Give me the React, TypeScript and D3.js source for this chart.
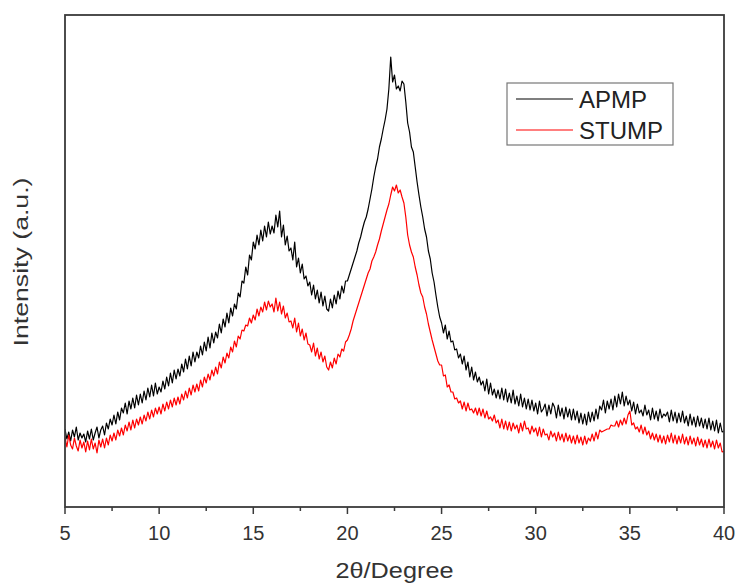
import React from "react";
import * as d3 from "d3";

// 2θ sampling: starts at 5°, step 0.1°
const angleStart = 5;
const angleStep = 0.1;

const xTicks = [5, 10, 15, 20, 25, 30, 35, 40];
const xMinorTicks = [7.5, 12.5, 17.5, 22.5, 27.5, 32.5, 37.5];

const seriesNames = ["APMP", "STUMP"];
const seriesColors = ["#000000", "#ff0000"];

// APMP intensity (a.u.), one row per degree (x.0 … x.9)
const apmp = [
  78, 68, 75, 66, 77, 70, 80, 67, 74, 69,
  73, 65, 76, 68, 78, 67, 74, 80, 69, 77,
  81, 72, 84, 78, 88, 82, 92, 83, 95, 87,
  99, 94, 104, 93, 106, 98, 109, 99, 112, 102,
  113, 104, 116, 107, 119, 110, 122, 111, 124, 113,
  120, 115, 126, 118, 130, 121, 134, 124, 137, 128,
  138, 131, 143, 135, 148, 138, 151, 141, 155, 145,
  155, 149, 161, 152, 165, 156, 170, 159, 174, 164,
  175, 169, 183, 174, 188, 180, 194, 184, 199, 191,
  203, 198, 214, 210, 226, 224, 240, 232, 252, 247,
  265, 258, 272, 262, 277, 266, 281, 270, 285, 273,
  281, 274, 292, 280, 296, 270, 282, 262, 271, 256,
  259, 247, 265, 240, 249, 234, 243, 228, 231, 221,
  225, 212, 222, 208, 217, 204, 215, 201, 211, 198,
  196, 208, 199, 212, 203, 216, 208, 221, 214, 226,
  226, 232, 238, 244, 250, 256, 264, 270, 278, 285,
  290, 298, 308, 318, 330, 340, 348, 360, 368, 378,
  387, 398, 418, 450, 425, 432, 418, 421, 416, 426,
  423, 405, 384, 375, 360, 355, 340, 325, 312, 300,
  290, 278, 270, 256, 248, 234, 225, 212, 200, 190,
  184, 174, 182, 168, 176, 165, 166, 157, 158, 149,
  153, 143, 151, 137, 145, 130, 140, 127, 135, 125,
  130, 122, 126, 116, 128, 113, 124, 112, 118, 109,
  117, 108, 119, 107, 118, 105, 114, 104, 117, 103,
  111, 101, 113, 100, 109, 98, 108, 97, 107, 96,
  104, 93, 106, 95, 98, 103, 91, 102, 93, 104,
  100, 89, 102, 91, 99, 88, 100, 90, 98, 87,
  98, 87, 96, 84, 94, 83, 93, 82, 95, 85,
  95, 86, 98, 88, 101, 97, 107, 94, 106, 98,
  108, 97, 111, 100, 113, 103, 115, 101, 111, 102,
  107, 96, 105, 93, 103, 94, 97, 91, 102, 92,
  97, 87, 99, 88, 96, 86, 98, 89, 93, 91,
  95, 85, 97, 86, 95, 84, 94, 85, 96, 84,
  91, 81, 93, 82, 90, 80, 91, 81, 89, 79,
  88, 78, 89, 77, 86, 76, 87, 74, 84, 75,
  76,
];

// STUMP intensity (a.u.)
const stump = [
  70, 60, 72, 62, 58, 69, 61, 56, 67, 59,
  65, 55, 66, 57, 68, 58, 64, 54, 67, 60,
  68, 59, 69, 62, 72, 66, 74, 67, 77, 71,
  79, 72, 82, 76, 85, 77, 87, 79, 88, 82,
  90, 83, 92, 86, 95, 88, 97, 90, 99, 93,
  100, 93, 103, 96, 105, 98, 107, 100, 109, 102,
  110, 103, 113, 107, 116, 109, 119, 112, 122, 115,
  123, 116, 127, 120, 130, 124, 133, 127, 137, 131,
  140, 133, 145, 139, 150, 144, 154, 149, 160, 155,
  166, 160, 171, 168, 177, 176, 182, 181, 189, 184,
  192, 187, 198, 191, 200, 195, 205, 197, 206, 200,
  203, 195, 209, 196, 205, 193, 201, 189, 194, 185,
  186, 179, 189, 175, 184, 171, 178, 167, 174, 163,
  162, 155, 164, 151, 159, 148, 155, 145, 151, 140,
  137, 145, 139, 149, 143, 153, 150, 158, 156, 165,
  167, 172, 178, 186, 192, 198, 204, 210, 216, 222,
  228, 234, 238, 246, 250, 255, 262, 268, 276, 283,
  290, 297, 303, 312, 320, 316, 322, 314, 317, 310,
  304, 290, 272, 262, 255, 250, 240, 232, 222, 214,
  210, 200, 193, 183, 175, 167, 160, 153, 146, 142,
  142, 131, 132, 120, 122, 115, 115, 108, 109, 104,
  106, 98, 105, 96, 104, 97, 98, 94, 99, 92,
  99, 91, 98, 89, 96, 88, 90, 86, 92, 84,
  87, 79, 88, 78, 86, 77, 85, 76, 84, 78,
  82, 74, 84, 76, 86, 78, 79, 73, 81, 75,
  79, 71, 80, 70, 78, 72, 73, 67, 76, 70,
  74, 66, 75, 67, 73, 65, 74, 66, 72, 64,
  71, 63, 72, 64, 70, 62, 71, 63, 69, 66,
  73, 66, 75, 68, 77, 75, 76, 77, 78, 78,
  82, 81, 81, 86, 80, 87, 82, 89, 83, 92,
  96, 82, 84, 78, 80, 75, 82, 73, 80, 72,
  76, 68, 74, 67, 73, 65, 72, 64, 71, 63,
  72, 65, 74, 64, 72, 63, 71, 64, 73, 63,
  70, 62, 71, 63, 69, 61, 70, 62, 68, 60,
  67, 59, 68, 60, 66, 58, 67, 59, 64, 55,
  56,
];

const W = 736;
const H = 583;
const L = 65, R = 724, T = 15, B = 507;
const FONT = "'Liberation Sans', Arial, Helvetica, sans-serif";

export default function App() {
  const x = d3.scaleLinear().domain([5, 40]).range([L, R]);
  const y = d3.scaleLinear().domain([0, 492]).range([B, T]);
  const line = d3
    .line<number>()
    .x((_, i) => x(angleStart + i * angleStep))
    .y((v) => y(v));
  const series = [apmp, stump];

  return (
    <svg
      width={W}
      height={H}
      style={{ position: "absolute", left: 0, top: 0, background: "#fff" }}
      fontFamily={FONT}
    >
      <rect x={0} y={0} width={W} height={H} fill="#fff" />
      <defs>
        <clipPath id="plot">
          <rect x={L} y={T} width={R - L} height={B - T} />
        </clipPath>
      </defs>
      <g clipPath="url(#plot)">
        {series.map((s, k) => (
          <path
            key={k}
            d={line(s) || ""}
            fill="none"
            stroke={seriesColors[k]}
            strokeWidth={1.2}
            strokeLinejoin="round"
          />
        ))}
      </g>
      <rect x={L} y={T} width={R - L} height={B - T} fill="none" stroke="#3a3a3a" strokeWidth={1.8} />
      {xTicks.map((t) => (
        <g key={t}>
          <line x1={x(t)} x2={x(t)} y1={B} y2={B + 7} stroke="#3a3a3a" strokeWidth={1.5} />
          <text x={x(t)} y={540} fontSize={20} textAnchor="middle" fill="#333">
            {t}
          </text>
        </g>
      ))}
      {xMinorTicks.map((t) => (
        <line key={t} x1={x(t)} x2={x(t)} y1={B} y2={B + 4} stroke="#3a3a3a" strokeWidth={1.5} />
      ))}
      <text
        x={(L + R) / 2}
        y={578}
        fontSize={22}
        textAnchor="middle"
        fill="#333"
        textLength={118}
        lengthAdjust="spacingAndGlyphs"
      >
        2θ/Degree
      </text>
      <text
        transform={`translate(28,${262}) rotate(-90)`}
        fontSize={20}
        textAnchor="middle"
        fill="#333"
        textLength={169}
        lengthAdjust="spacingAndGlyphs"
      >
        Intensity (a.u.)
      </text>
      <g>
        <rect x={507} y={83} width={166} height={62} fill="#fff" stroke="#777" strokeWidth={1.2} />
        {seriesNames.map((n, k) => (
          <g key={n}>
            <line
              x1={516}
              x2={573}
              y1={99 + k * 31}
              y2={99 + k * 31}
              stroke={seriesColors[k]}
              strokeWidth={1.2}
            />
            <text x={579} y={108 + k * 31} fontSize={24} fill="#222">
              {n}
            </text>
          </g>
        ))}
      </g>
    </svg>
  );
}
